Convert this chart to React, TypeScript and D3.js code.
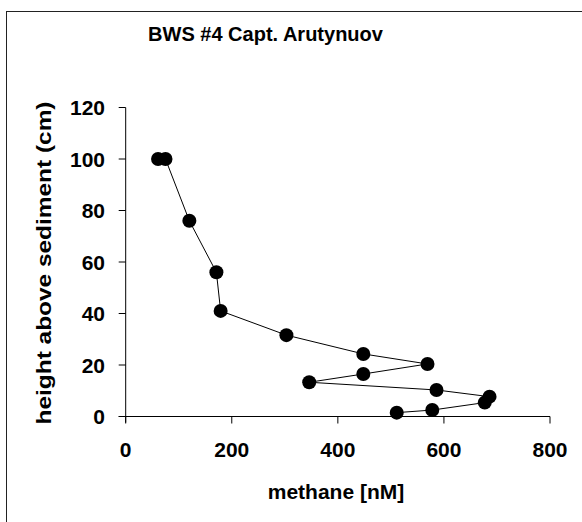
import React from "react";
import * as d3 from "d3";

const methane = [61, 75, 120, 171, 179, 303, 448, 569, 448, 346, 586, 686, 677, 578, 511];
const height = [100, 100, 76, 56, 41, 31.6, 24.3, 20.4, 16.5, 13.3, 10.3, 7.7, 5.4, 2.5, 1.5];
const xTicks = [0, 200, 400, 600, 800];
const yTicks = [0, 20, 40, 60, 80, 100, 120];
const title = "BWS #4 Capt. Arutynuov";
const xLabel = "methane [nM]";
const yLabel = "height above sediment (cm)";

export default function App() {
  const x = d3.scaleLinear().domain([0, 800]).range([125.7, 550]);
  const y = d3.scaleLinear().domain([0, 120]).range([416.5, 107.5]);
  const pts = methane.map((m, i) => [m, height[i]] as [number, number]);
  const line = d3.line<[number, number]>().x(d => x(d[0])).y(d => y(d[1]));
  const font = "'Liberation Sans', Arial, sans-serif";
  return (
    <svg width={582} height={522} style={{ position: "absolute", left: 0, top: 0, background: "#fff" }} fontFamily={font}>
      <rect x={6.5} y={11.5} width={700} height={700} fill="#fff" stroke="#222" strokeWidth={1} />
      <text x={265.5} y={41} textAnchor="middle" fontSize={20} fontWeight="bold">{title}</text>
      {/* y axis */}
      <line x1={x(0)} x2={x(0)} y1={y(120)} y2={y(0) + 6} stroke="#000" strokeWidth={1} />
      {yTicks.map(t => (
        <g key={"y" + t}>
          <line x1={x(0) - 7} x2={x(0)} y1={y(t)} y2={y(t)} stroke="#000" />
          <text x={105} y={y(t)} textAnchor="end" dominantBaseline="central" fontSize={21} fontWeight="bold">{t}</text>
        </g>
      ))}
      {/* x axis */}
      <line x1={x(0) - 7} x2={x(800)} y1={y(0)} y2={y(0)} stroke="#000" strokeWidth={1} />
      {xTicks.map(t => (
        <g key={"x" + t}>
          <line x1={x(t)} x2={x(t)} y1={y(0)} y2={y(0) + 7} stroke="#000" />
          <text x={x(t)} y={457} textAnchor="middle" fontSize={21} fontWeight="bold">{t}</text>
        </g>
      ))}
      <text x={336} y={499} textAnchor="middle" fontSize={21} fontWeight="bold">{xLabel}</text>
      <text transform="translate(43,263) rotate(-90)" textAnchor="middle" dominantBaseline="central" fontSize={21} fontWeight="bold" textLength={323} lengthAdjust="spacingAndGlyphs">{yLabel}</text>
      <path d={line(pts) || ""} fill="none" stroke="#000" strokeWidth={1} />
      {pts.map((p, i) => (
        <circle key={i} cx={x(p[0])} cy={y(p[1])} r={7} fill="#000" />
      ))}
    </svg>
  );
}
